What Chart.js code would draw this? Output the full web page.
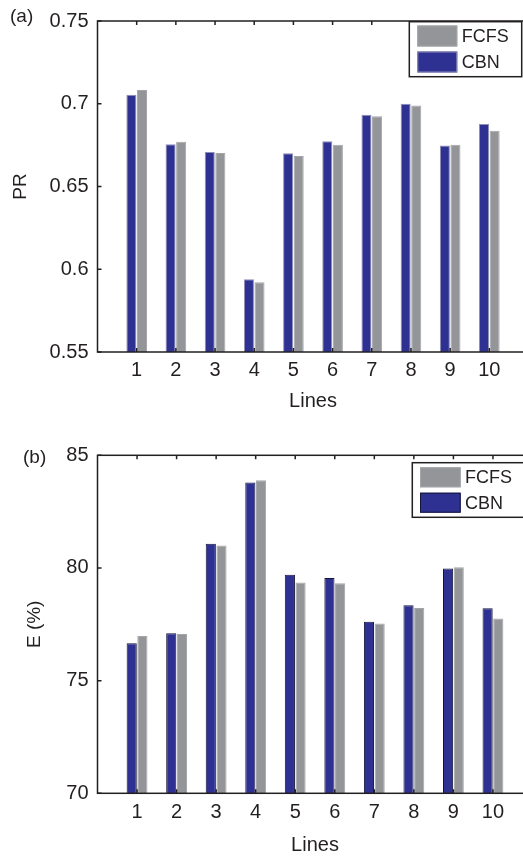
<!DOCTYPE html>
<html lang="en">
<head>
<meta charset="UTF-8">
<title>PR and E by line</title>
<script src="https://cdn.jsdelivr.net/npm/chart.js@4"></script>
<style>
  body { margin: 0; background: #fff; overflow: hidden; width: 523px; height: 856px; }
  canvas { display: block; }
</style>
</head>
<body>
<canvas id="chartPR" width="540" height="428"></canvas>
<canvas id="chartE" width="540" height="428"></canvas>
<script>
// values
const lines = [1, 2, 3, 4, 5, 6, 7, 8, 9, 10];
const prCBN  = [0.7055, 0.6756, 0.6709, 0.5939, 0.6701, 0.6774, 0.6934, 0.7000, 0.6748, 0.6877];
const prFCFS = [0.7083, 0.6770, 0.6703, 0.5921, 0.6685, 0.6752, 0.6924, 0.6990, 0.6752, 0.6837];
const eCBN   = [76.66, 77.10, 81.08, 83.79, 79.70, 79.55, 77.61, 78.34, 79.98, 78.21];
const eFCFS  = [76.98, 77.07, 81.00, 83.89, 79.36, 79.32, 77.54, 78.22, 80.03, 77.76];

const ink = '#231f20';
const blue = '#2e3192';
const grey = '#939598';
const font = '"Liberation Sans", Arial, sans-serif';

// matlab style box, inward ticks, panel letter and boxed legend
const matlabAxes = {
  id: 'matlabAxes',
  afterDatasetsDraw(chart, args, opts) {
    const { ctx, chartArea: a, scales: { x, y } } = chart;
    ctx.save();
    ctx.strokeStyle = ink;
    ctx.lineWidth = 1.5;
    ctx.beginPath();
    x.ticks.forEach(t => {
      if (t.value < 1 || t.value > 10) return;
      const px = x.getPixelForValue(t.value);
      ctx.moveTo(px, a.top); ctx.lineTo(px, a.top + 4);
      ctx.moveTo(px, a.bottom); ctx.lineTo(px, a.bottom - 4);
    });
    y.ticks.forEach(t => {
      const py = y.getPixelForValue(t.value);
      ctx.moveTo(a.left, py); ctx.lineTo(a.left + 4, py);
    });
    ctx.stroke();
    ctx.strokeRect(a.left, a.top, a.right - a.left, a.bottom - a.top);

    ctx.fillStyle = ink;
    ctx.font = '19px ' + font;
    ctx.textBaseline = 'middle';
    ctx.textAlign = 'left';
    ctx.fillText(opts.panel, opts.panelX, opts.panelY);

    const L = opts.legend;
    ctx.fillStyle = '#fff';
    ctx.fillRect(L.left, L.top, L.right - L.left, L.bottom - L.top);
    ctx.strokeRect(L.left, L.top, L.right - L.left, L.bottom - L.top);
    ctx.font = '18px ' + font;
    chart.data.datasets.slice().reverse().forEach((ds, i) => {
      const top = L.rows[i];
      ctx.fillStyle = ds.backgroundColor;
      ctx.fillRect(L.swX, top, L.swW, L.swH);
      ctx.lineWidth = 1;
      ctx.strokeStyle = ds.borderColor;
      ctx.strokeRect(L.swX + 0.5, top + 0.5, L.swW - 1, L.swH - 1);
      ctx.fillStyle = ink;
      ctx.fillText(ds.label, L.textX, top + L.swH / 2 + 1);
    });
    ctx.restore();
  }
};

function makeChart(id, cbn, fcfs, cfg) {
  return new Chart(document.getElementById(id), {
    type: 'bar',
    data: {
      datasets: [
        { label: 'CBN', data: lines.map((l, i) => ({ x: l, y: cbn[i] })),
          backgroundColor: blue, borderColor: cfg.blueEdge, borderWidth: 1 },
        { label: 'FCFS', data: lines.map((l, i) => ({ x: l, y: fcfs[i] })),
          backgroundColor: grey, borderColor: '#a3a5a8', borderWidth: 1 }
      ]
    },
    plugins: [matlabAxes],
    options: {
      responsive: false,
      animation: false,
      categoryPercentage: 0.54,
      barPercentage: 0.95,
      layout: { padding: { top: cfg.padTop, right: cfg.padRight, bottom: 0, left: 0 } },
      scales: {
        x: {
          type: 'linear',
          min: 0, max: 11,
          offset: false,
          grid: { display: false, drawTicks: false, tickLength: 0, offset: false },
          border: { display: false },
          afterFit: s => { s.height = cfg.xHeight; },
          ticks: {
            stepSize: 1, autoSkip: false, maxRotation: 0, padding: 6.7,
            color: ink, font: { family: font, size: 20 },
            callback: v => (v >= 1 && v <= 10) ? String(v) : ''
          },
          title: {
            display: true, text: 'Lines', color: ink,
            font: { family: font, size: 20, lineHeight: 1 },
            padding: { top: 0, bottom: cfg.xTitlePad }
          }
        },
        y: {
          min: cfg.yMin, max: cfg.yMax,
          grid: { display: false, drawTicks: false, tickLength: 0 },
          border: { display: false },
          afterFit: s => { s.width = 97.5; },
          ticks: {
            stepSize: cfg.yStep, padding: 9, color: ink,
            font: { family: font, size: 20 },
            callback: v => String(parseFloat(v.toFixed(2)))
          },
          title: {
            display: true, text: cfg.yTitle, color: ink,
            font: { family: font, size: 19, lineHeight: 1 },
            padding: { top: cfg.yTitlePad, bottom: 0 }
          }
        }
      },
      plugins: {
        legend: { display: false },
        tooltip: { enabled: false },
        matlabAxes: cfg.decor
      }
    }
  });
}

makeChart('chartPR', prCBN, prFCFS, {
  yMin: 0.55, yMax: 0.75, yStep: 0.05, yTitle: 'PR', yTitlePad: 11,
  padTop: 15, padRight: 11.5, xHeight: 76, xTitlePad: 16.3,
  blueEdge: '#8d8fb3',
  decor: {
    panel: '(a)', panelX: 10, panelY: 17,
    legend: { left: 409.3, top: 21.7, right: 521.7, bottom: 76.7,
              swX: 417.3, swW: 40, swH: 21, rows: [25.5, 51.5], textX: 461.7 }
  }
});

makeChart('chartE', eCBN, eFCFS, {
  yMin: 70, yMax: 85, yStep: 5, yTitle: 'E (%)', yTitlePad: 25.5,
  padTop: 27.3, padRight: 7.5, xHeight: 62.7, xTitlePad: 0.5,
  blueEdge: '#15153a',
  decor: {
    panel: '(b)', panelX: 23, panelY: 30,
    legend: { left: 412.3, top: 34.7, right: 540, bottom: 89.3,
              swX: 420, swW: 40.7, swH: 20, rows: [39.3, 64.7], textX: 465 }
  }
});
</script>
</body>
</html>
